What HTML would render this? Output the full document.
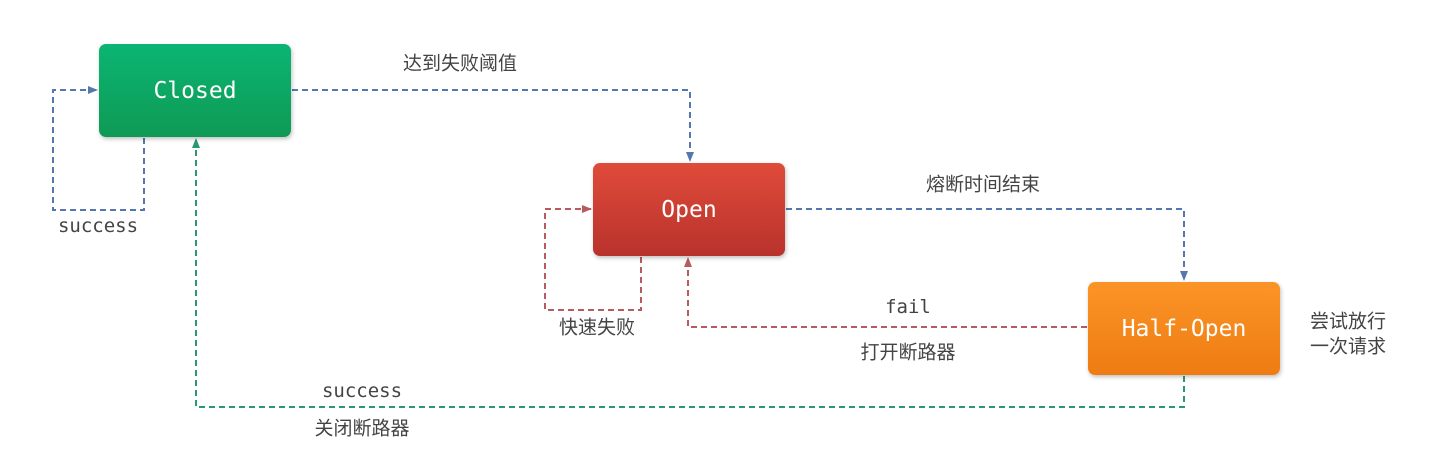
<!DOCTYPE html>
<html><head><meta charset="utf-8"><style>
body{margin:0;width:1434px;height:459px;background:#fff;overflow:hidden;position:relative;font-family:"Liberation Sans","Noto Sans CJK SC",sans-serif}
.box{position:absolute;width:192px;height:93px;border-radius:7px;color:#fff;font:23px "DejaVu Sans Mono","Liberation Mono",monospace;display:flex;align-items:center;justify-content:center;box-shadow:1px 2px 4px rgba(0,0,0,.25)}
.t{position:absolute;font-size:19px;color:#444;transform:translate(-50%,-50%);white-space:nowrap}
.m{font-family:"DejaVu Sans Mono","Liberation Mono",monospace;font-size:19px}
</style></head><body>
<svg width="1434" height="459" style="position:absolute;left:0;top:0">
<defs>
<marker id="b" markerWidth="10" markerHeight="10" refX="9" refY="5" orient="auto" markerUnits="userSpaceOnUse"><path d="M0,1 L10,5 L0,9z" fill="#5577b0"/></marker>
<marker id="r" markerWidth="10" markerHeight="10" refX="9" refY="5" orient="auto" markerUnits="userSpaceOnUse"><path d="M0,1 L10,5 L0,9z" fill="#b85a5e"/></marker>
<marker id="g" markerWidth="10" markerHeight="10" refX="9" refY="5" orient="auto" markerUnits="userSpaceOnUse"><path d="M0,1 L10,5 L0,9z" fill="#2a9a6e"/></marker>
</defs>
<g fill="none" stroke-width="2" stroke-dasharray="6,4">
<path d="M144,138 V210 H53 V90 H97" stroke="#5577b0" marker-end="url(#b)"/>
<path d="M292,90 H690 V161" stroke="#5577b0" marker-end="url(#b)"/>
<path d="M641,257 V310 H545 V209 H591" stroke="#b85a5e" marker-end="url(#r)"/>
<path d="M786,209 H1184 V280" stroke="#5577b0" marker-end="url(#b)"/>
<path d="M1087,327 H688 V258" stroke="#b85a5e" marker-end="url(#r)"/>
<path d="M1184,376 V407 H196 V139" stroke="#2a9a6e" marker-end="url(#g)"/>
</g>
</svg>
<div class="box" style="left:99px;top:44px;background:linear-gradient(#0bb573,#0e9a55)">Closed</div>
<div class="box" style="left:593px;top:163px;background:linear-gradient(#e04b3a,#b8322c)">Open</div>
<div class="box" style="left:1088px;top:282px;background:linear-gradient(#fb9427,#ee7c12)">Half-Open</div>
<div class="t" style="left:460px;top:62px">达到失败阈值</div>
<div class="t m" style="left:98px;top:226px">success</div>
<div class="t" style="left:597px;top:326px">快速失败</div>
<div class="t" style="left:983px;top:183px">熔断时间结束</div>
<div class="t m" style="left:908px;top:307px">fail</div>
<div class="t" style="left:908px;top:351px">打开断路器</div>
<div class="t" style="left:1348px;top:320px">尝试放行</div>
<div class="t" style="left:1348px;top:345px">一次请求</div>
<div class="t m" style="left:362px;top:391px">success</div>
<div class="t" style="left:362px;top:427px">关闭断路器</div>
</body></html>
